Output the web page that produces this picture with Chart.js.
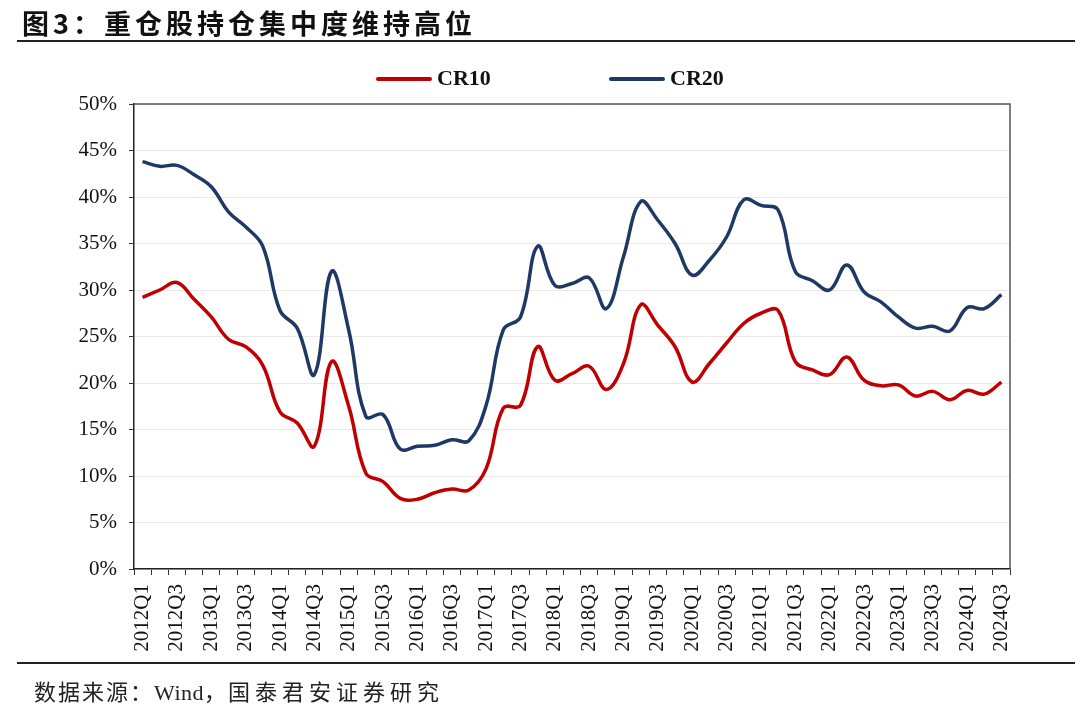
<!DOCTYPE html>
<html>
<head>
<meta charset="utf-8">
<script src="https://cdn.jsdelivr.net/npm/chart.js@4"></script>
<style>
  body { margin: 0; background: #fff; }
  #wrap { position: relative; width: 1080px; height: 718px; overflow: hidden; }
  #chart { position: absolute; left: 0; top: 0; }
  .title { position: absolute; left: 22px; top: 3px; font: bold 27px "Noto Sans CJK SC"; letter-spacing: 4px; color: #111; }
  .rule { position: absolute; left: 17px; width: 1058px; height: 2px; background: #222; }
  .source { position: absolute; left: 34px; top: 674px; font: 22px "Liberation Serif", "Noto Sans CJK SC"; letter-spacing: 2px; color: #222; }
  .lg-line { position: absolute; height: 4px; width: 56px; top: 77px; border-radius: 2px; }
  .lg-text { position: absolute; top: 65px; font: bold 22px "Liberation Serif"; color: #111; }
</style>
</head>
<body>
<div id="wrap">
  <canvas id="chart" width="1080" height="718"></canvas>
  <div class="title">图3：重仓股持仓集中度维持高位</div>
  <div class="rule" style="top:40px"></div>
  <div class="lg-line" style="left:376px;background:#C00000"></div>
  <div class="lg-text" style="left:437px">CR10</div>
  <div class="lg-line" style="left:609px;background:#1F3864"></div>
  <div class="lg-text" style="left:670px">CR20</div>
  <div class="rule" style="top:662px"></div>
  <div class="source">数据来源：<span style="letter-spacing:0.5px">Wind</span>，<span style="letter-spacing:5px">国泰君安证券研究</span></div>
</div>
<script>
// quarters 2012Q1 .. 2024Q3
const quarters = [];
for (let y = 2012; y <= 2024; y++) {
    for (let q = 1; q <= 4; q++) {
        if (y === 2024 && q > 3) break;
        quarters.push(y + 'Q' + q);
    }
}

const cr10 = [29.2, 30.0, 30.8, 29.0, 27.1, 24.7, 23.9, 21.9, 16.9, 15.7,
              13.2, 22.3, 17.5, 10.3, 9.4, 7.6, 7.5, 8.2, 8.6, 8.5,
              10.8, 17.3, 17.6, 23.9, 20.3, 21.0, 21.8, 19.3, 22.1, 28.4,
              26.2, 23.9, 20.1, 22.1, 24.3, 26.4, 27.5, 27.8, 22.3, 21.4,
              20.9, 22.8, 20.3, 19.7, 19.8, 18.6, 19.1, 18.2, 19.2, 18.8,
              20.1];
const cr20 = [43.8, 43.3, 43.4, 42.4, 41.1, 38.4, 36.8, 34.7, 27.8, 25.9,
              20.9, 32.0, 25.7, 16.4, 16.6, 12.9, 13.2, 13.3, 13.9, 13.8,
              17.6, 25.7, 27.1, 34.7, 30.5, 30.7, 31.3, 28.0, 33.6, 39.5,
              37.5, 35.0, 31.6, 33.2, 35.7, 39.7, 39.1, 38.6, 32.0, 31.0,
              30.0, 32.7, 29.8, 28.7, 27.1, 25.9, 26.1, 25.6, 28.1, 28.0,
              29.5];

const frame = {
    id: 'frame',
    afterDraw(c) {
        const a = c.chartArea, ctx = c.ctx;
        ctx.save();
        ctx.strokeStyle = '#555';
        ctx.lineWidth = 1.5;
        ctx.beginPath();
        ctx.moveTo(a.left, a.top);
        ctx.lineTo(a.right, a.top);
        ctx.lineTo(a.right, a.bottom);
        ctx.stroke();
        ctx.restore();
    }
};

const ctx = document.getElementById('chart').getContext('2d');
const chart = new Chart(ctx, {
    type: 'line',
    data: {
        labels: quarters,
        datasets: [{
            label: 'CR10',
            data: cr10,
            borderColor: '#C00000',
            borderWidth: 3.5,
            pointRadius: 0,
            tension: 0.4
        }, {
            label: 'CR20',
            data: cr20,
            borderColor: '#1F3864',
            borderWidth: 3.5,
            pointRadius: 0,
            tension: 0.4
        }]
    },
    options: {
        responsive: false,
        animation: false,
        layout: { padding: { left: 0, right: 70, top: 104, bottom: 0 } },
        plugins: { legend: { display: false }, tooltip: { enabled: false } },
        scales: {
            x: {
                offset: true,
                grid: { offset: true, drawOnChartArea: false, tickLength: 6, color: '#333' },
                border: { color: '#222', width: 1.5 },
                ticks: {
                    autoSkip: false, minRotation: 90, maxRotation: 90, padding: 9,
                    color: '#111', font: { family: 'Liberation Serif', size: 21 },
                    callback: (v, i) => i % 2 === 0 ? quarters[i] : ''
                },
                afterFit: s => { s.height = 149; }
            },
            y: {
                min: 0, max: 50,
                ticks: {
                    stepSize: 5, color: '#111', padding: 12,
                    font: { family: 'Liberation Serif', size: 21 },
                    callback: v => v + '%'
                },
                grid: { color: '#e8e8e8', tickColor: '#333', tickLength: 5 },
                border: { color: '#222', width: 1.5 },
                afterFit: s => { s.width = 134; }
            }
        }
    },
    plugins: [frame]
});
</script>
</body>
</html>
